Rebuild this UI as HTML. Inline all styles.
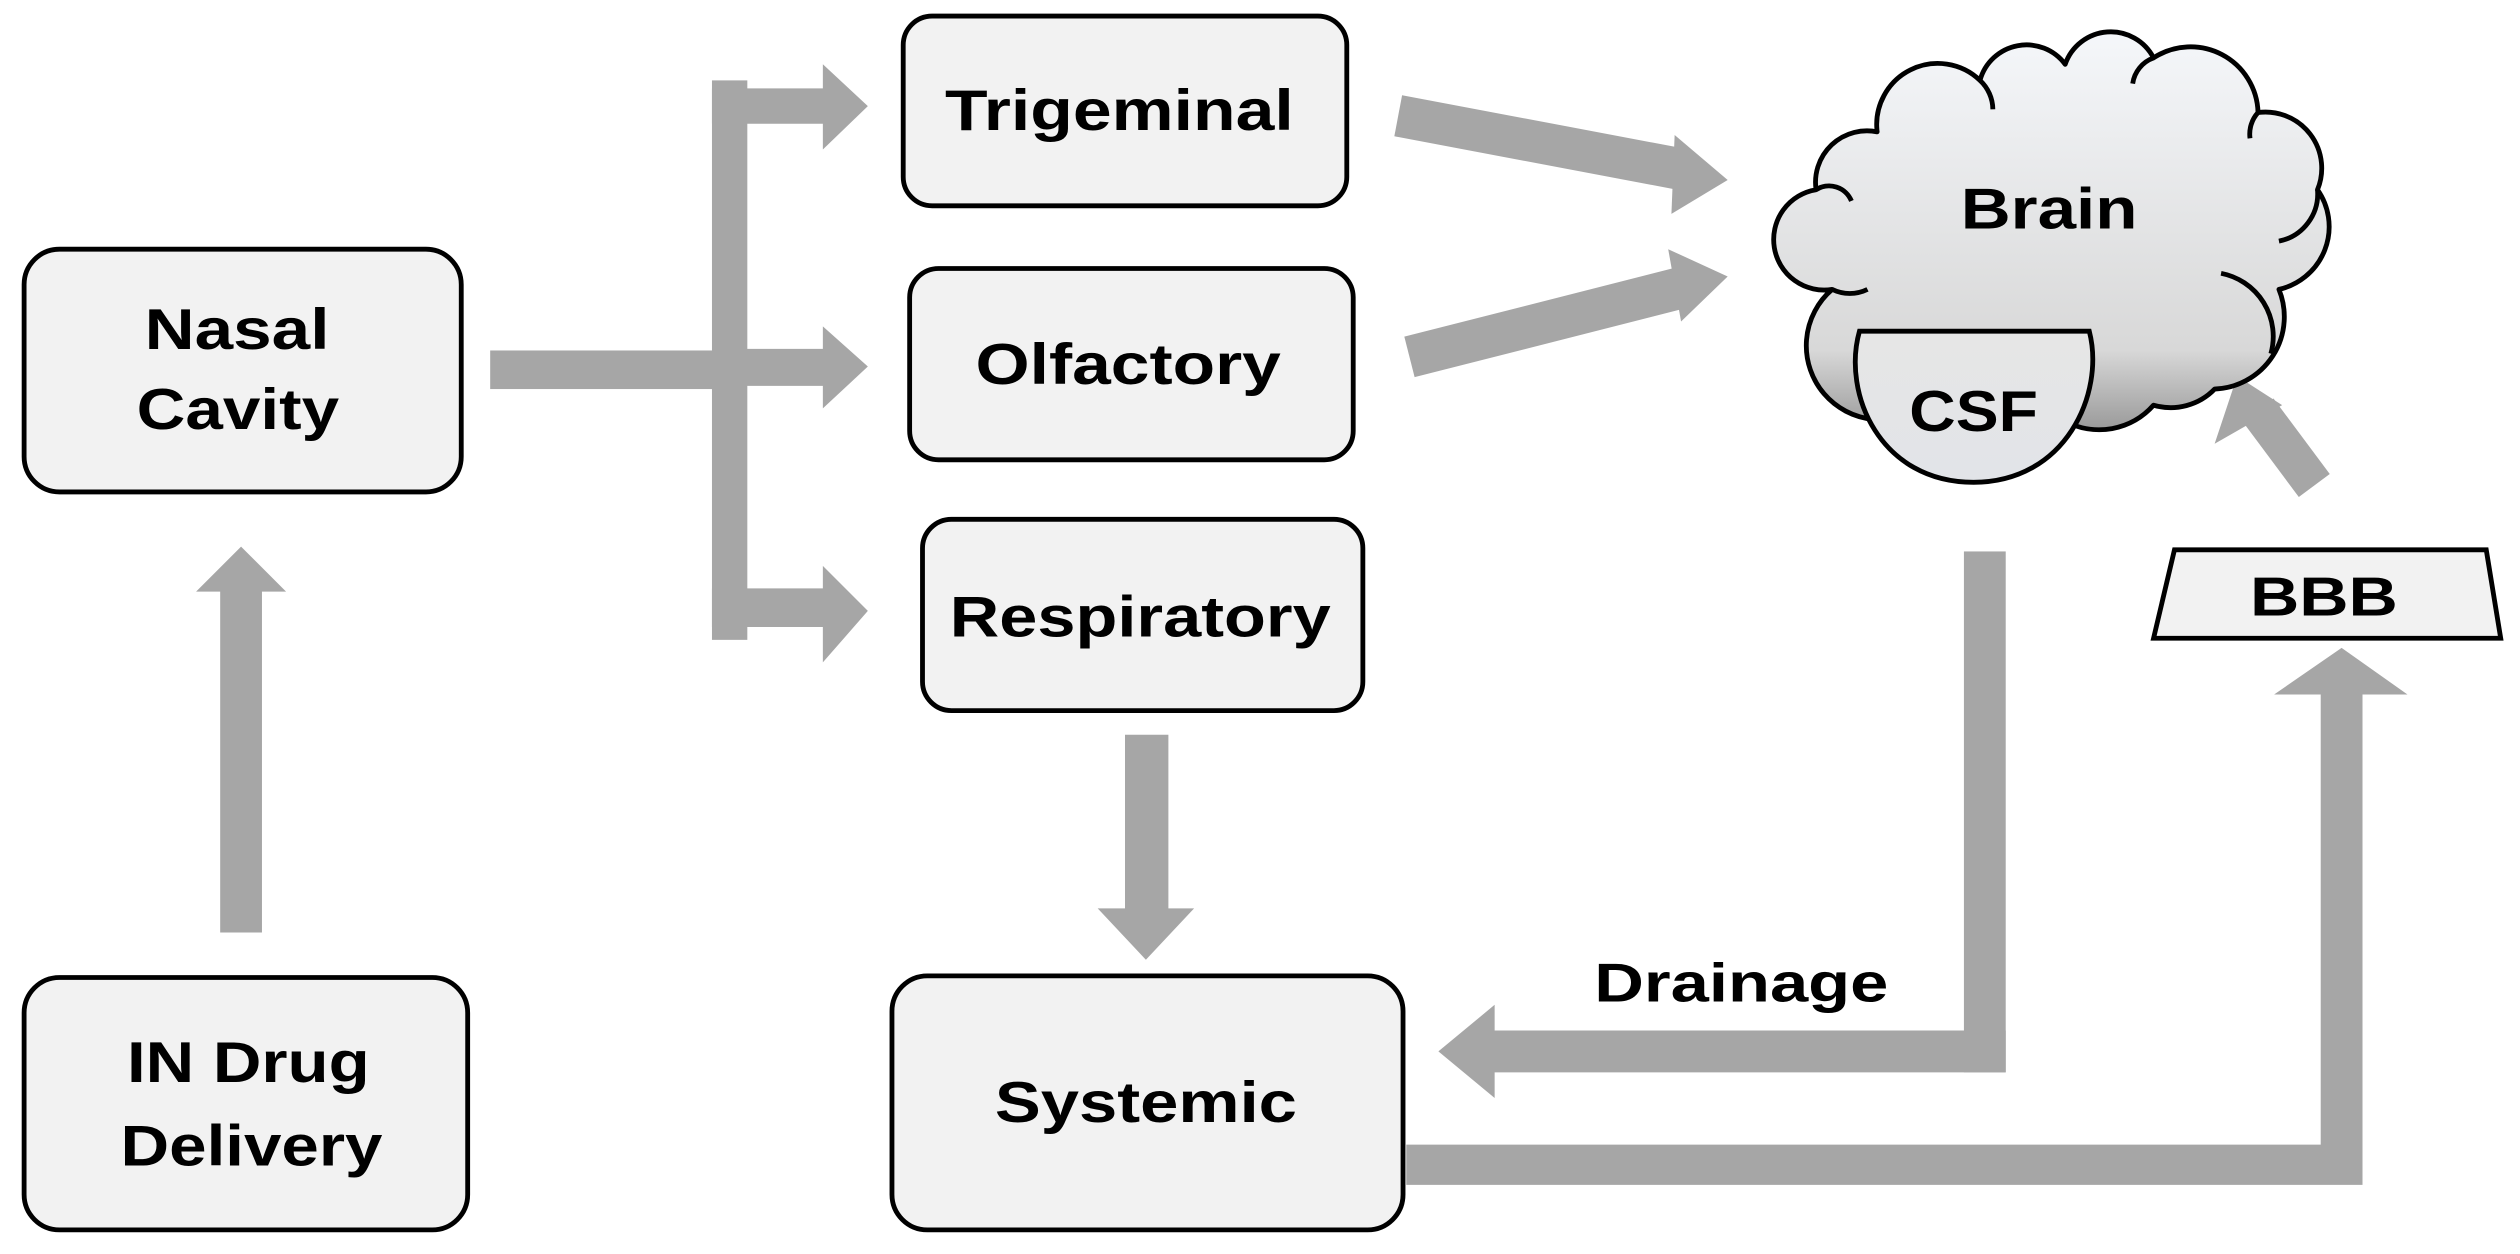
<!DOCTYPE html>
<html><head><meta charset="utf-8"><style>
html,body{margin:0;padding:0;background:#fff;}
svg{display:block;}
text{font-family:"Liberation Sans",Arial,sans-serif;font-weight:bold;fill:#000;}
</style></head><body>
<svg width="2520" height="1254" viewBox="0 0 1568 780" preserveAspectRatio="none" xmlns="http://www.w3.org/2000/svg">
<defs>
<linearGradient id="g" x1="0" y1="0" x2="0" y2="1">
<stop offset="0" stop-color="#f5f7fa"/><stop offset="0.8" stop-color="#d8d8d8"/><stop offset="1" stop-color="#9a9a9a"/>
</linearGradient>
<linearGradient id="g2" x1="0" y1="0" x2="0" y2="1">
<stop offset="0" stop-color="#e6e6e6"/><stop offset="1" stop-color="#e2e4e8"/>
</linearGradient>
</defs>
<g fill="#a6a6a6">
<polygon points="137,580 163,580 163,368 178,368 150,340 122,368 137,368"/>
<rect x="305" y="218" width="150" height="24"/>
<rect x="443" y="50" width="22" height="348"/>
<polygon points="443,55 512,55 512,40 540,66 512,93 512,77 443,77"/>
<polygon points="455,217 512,217 512,203 540,228 512,254 512,240 455,240"/>
<polygon points="443,366 512,366 512,352 540,380 512,412 512,390 443,390"/>
<polygon points="700,457 727,457 727,565 743,565 713,597 683,565 700,565"/>
<line x1="870" y1="72" x2="1050" y2="106" stroke="#a6a6a6" stroke-width="26"/>
<polygon points="1042,84 1075,112 1040,133"/>
<line x1="877" y1="222" x2="1050" y2="178" stroke="#a6a6a6" stroke-width="26"/>
<polygon points="1038,155 1075,172 1046,200"/>
<line x1="1440" y1="302" x2="1405" y2="255" stroke="#a6a6a6" stroke-width="24"/>
<polygon points="1392,234 1378,276 1420,252"/>
<rect x="1222" y="343" width="26" height="324"/>
<polygon points="1248,641 930,641 930,625 895,654 930,683 930,667 1248,667"/>
<polygon points="875,712 1444,712 1444,432 1415,432 1457,403 1498,432 1470,432 1470,737 875,737"/>
</g>
<g fill="#f2f2f2" stroke="#000" stroke-width="3">
<rect x="15" y="155" width="272" height="151" rx="22"/>
<rect x="15" y="608" width="276" height="157" rx="22"/>
<rect x="562" y="10" width="276" height="118" rx="18"/>
<rect x="566" y="167" width="276" height="119" rx="18"/>
<rect x="574" y="323" width="274" height="119" rx="18"/>
<rect x="555" y="607" width="318" height="158" rx="22"/>
<polygon points="1353,342 1547,342 1556,397 1340,397"/>
</g>
<path fill="url(#g)" stroke="#000" stroke-width="3" stroke-linejoin="round"
d="M1140,180 A30,30 0 0 1 1130,118 A32,32 0 0 1 1168,82 A38,38 0 0 1 1232,50 A30,30 0 0 1 1285,40 A30,30 0 0 1 1340,36 A42,42 0 0 1 1405,70 A35,35 0 0 1 1442,118 A40,40 0 0 1 1418,180 A45,45 0 0 1 1378,242 A38,38 0 0 1 1340,252 A45,45 0 0 1 1285,262 L1200,250 A35,35 0 0 1 1140,180 Z"/>
<path fill="none" stroke="#000" stroke-width="3" d="M1232,50 A25,25 0 0 1 1240,68 M1340,36 A20,20 0 0 0 1327,52 M1405,70 A20,20 0 0 0 1400,86 M1442,118 A30,30 0 0 1 1418,150 M1382,170 A40,40 0 0 1 1413,220 M1162,180 A25,25 0 0 1 1140,180 M1130,118 A15,15 0 0 1 1152,125"/>
<path fill="url(#g2)" stroke="#000" stroke-width="3" d="M1157,206 L1300,206 C1310,245 1285,300 1228,300 C1170,300 1146,245 1157,206 Z"/>
<g font-size="36" lengthAdjust="spacingAndGlyphs">
<text x="1220" y="142" textLength="110" lengthAdjust="spacingAndGlyphs">Brain</text>
<text x="1188" y="268" textLength="80" lengthAdjust="spacingAndGlyphs">CSF</text>
<text x="1400" y="383" textLength="92" lengthAdjust="spacingAndGlyphs" font-size="34">BBB</text>
<text x="90" y="217" textLength="115" lengthAdjust="spacingAndGlyphs">Nasal</text>
<text x="85" y="267" textLength="126" lengthAdjust="spacingAndGlyphs">Cavity</text>
<text x="79" y="673" textLength="151" lengthAdjust="spacingAndGlyphs">IN Drug</text>
<text x="75" y="725" textLength="163" lengthAdjust="spacingAndGlyphs">Delivery</text>
<text x="588" y="81" textLength="217" lengthAdjust="spacingAndGlyphs">Trigeminal</text>
<text x="607" y="239" textLength="190" lengthAdjust="spacingAndGlyphs">Olfactory</text>
<text x="591" y="396" textLength="237" lengthAdjust="spacingAndGlyphs">Respiratory</text>
<text x="619" y="698" textLength="188" lengthAdjust="spacingAndGlyphs">Systemic</text>
<text x="992" y="623" textLength="183" lengthAdjust="spacingAndGlyphs" font-size="34">Drainage</text>
</g>
</svg>
</body></html>
